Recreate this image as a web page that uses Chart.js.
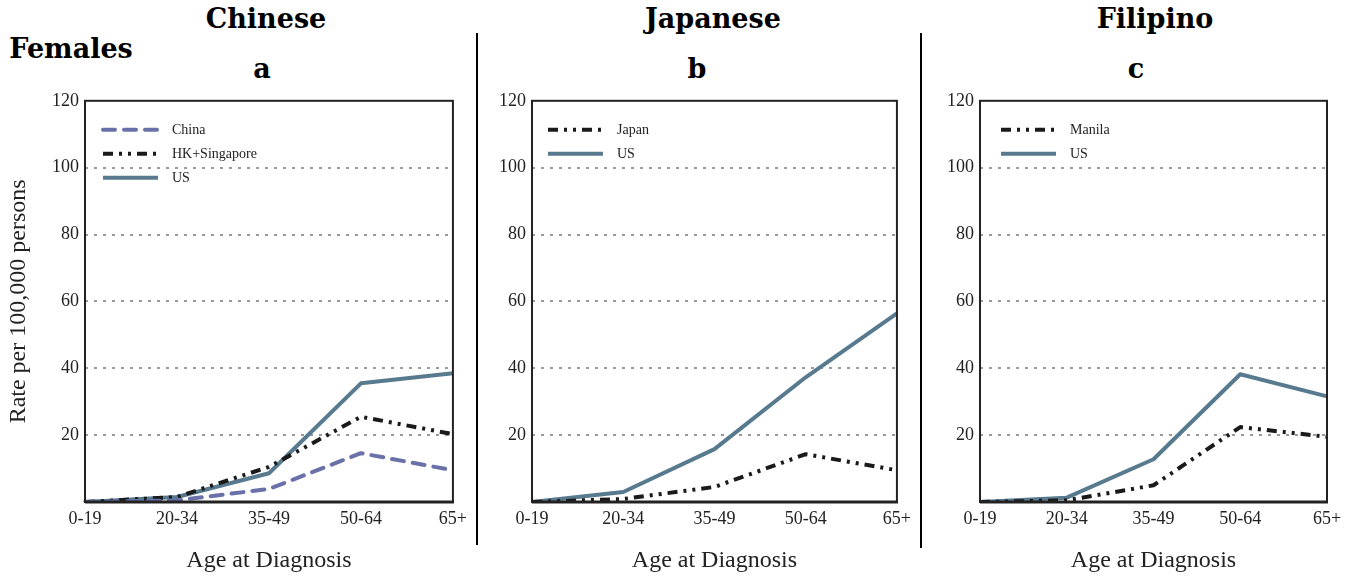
<!DOCTYPE html>
<html>
<head>
<meta charset="utf-8">
<script src="https://cdn.jsdelivr.net/npm/chart.js@4.4.1/dist/chart.umd.min.js"></script>
<style>
    body { margin: 0; background: #fff; width: 1354px; height: 579px; position: relative; overflow: hidden; font-family: "Liberation Serif", serif; }
    .txt { position: absolute; font-family: "DejaVu Serif", serif; font-weight: bold; font-size: 27px; color: #000; white-space: nowrap; transform: translateX(-50%); }
    .sep { position: absolute; width: 2px; background: #000; }
    .panel { position: absolute; top: 84px; height: 495px; }
</style>
</head>
<body>
<div class="txt" style="left:266px; top:3px;">Chinese</div>
<div class="txt" style="left:262px; top:53px;">a</div>
<div class="txt" style="left:71px; top:33px;">Females</div>
<div class="txt" style="left:713px; top:3px;">Japanese</div>
<div class="txt" style="left:697px; top:53px;">b</div>
<div class="txt" style="left:1155px; top:3px;">Filipino</div>
<div class="txt" style="left:1136px; top:53px;">c</div>
<div class="sep" style="left:476px; top:33px; height:512px;"></div>
<div class="sep" style="left:920px; top:33px; height:515px;"></div>

<div class="panel" style="left:0px; width:473px;"><canvas id="chartA"></canvas></div>
<div class="panel" style="left:480px; width:437px;"><canvas id="chartB"></canvas></div>
<div class="panel" style="left:925px; width:429px;"><canvas id="chartC"></canvas></div>

<script>
// age groups and tick values
const ageGroups = ['0-19', '20-34', '35-49', '50-64', '65+'];
const yTicks = [20, 40, 60, 80, 100, 120];

// Chinese panel (a)
const chinaRate = [0, 0.5, 3.9, 14.6, 9.5];
const hkSingaporeRate = [0, 1.5, 10.5, 25.5, 20.3];
const usChineseRate = [0, 1.5, 8.6, 35.5, 38.5];

// Japanese panel (b)
const japanRate = [0, 0.9, 4.5, 14.3, 9.5];
const usJapaneseRate = [0, 3, 15.8, 37.3, 56.4];

// Filipino panel (c)
const manilaRate = [0, 0.5, 5, 22.4, 19.5];
const usFilipinoRate = [0, 1.3, 12.8, 38.2, 31.6];

const US_COLOR = '#587a8e';
const CHINA_COLOR = '#6a70a8';
const DARK = '#1a1a1a';
const DASH_DOT = [10, 6, 3, 6, 3, 6];

function usSet(data) {
    return { label: 'US', data: data, borderColor: US_COLOR, borderWidth: 4, borderDash: [] };
}

// frame around the plot + legend inside top-left corner
const framePlugin = {
    id: 'frame',
    afterDraw(chart) {
        const a = chart.chartArea;
        const ctx = chart.ctx;
        ctx.save();
        ctx.strokeStyle = '#222';
        ctx.lineWidth = 2;
        ctx.strokeRect(a.left, a.top, a.right - a.left, a.bottom - a.top);
        ctx.lineWidth = 3;
        ctx.beginPath();
        ctx.moveTo(a.left, a.bottom);
        ctx.lineTo(a.right + 1, a.bottom);
        ctx.stroke();

        // legend
        const lg = chart.options.plugins.frame;
        chart.data.datasets.forEach(function (ds, i) {
            const y = a.top + lg.top + i * 24;
            const x0 = a.left + lg.left;
            ctx.strokeStyle = ds.borderColor;
            ctx.lineWidth = 4;
            ctx.lineCap = ds.borderCapStyle || 'butt';
            ctx.setLineDash(ds.borderDash);
            ctx.beginPath();
            ctx.moveTo(x0, y);
            ctx.lineTo(x0 + 55, y);
            ctx.stroke();
            ctx.setLineDash([]);
            ctx.fillStyle = '#222';
            ctx.font = '14px "Liberation Serif"';
            ctx.textBaseline = 'middle';
            ctx.fillText(ds.label, x0 + 69, y + 1);
        });
        ctx.restore();
    }
};

function makeChart(id, datasets, opts) {
    return new Chart(document.getElementById(id), {
        type: 'line',
        data: { labels: ageGroups, datasets: datasets },
        plugins: [framePlugin],
        options: {
            responsive: true,
            maintainAspectRatio: false,
            animation: false,
            layout: { padding: { top: 4, right: opts.right, left: 0, bottom: 0 } },
            elements: {
                point: { radius: 0 },
                line: { tension: 0, borderJoinStyle: 'round' }
            },
            plugins: {
                legend: { display: false },
                tooltip: { enabled: false },
                frame: { left: opts.legendLeft, top: 29 }
            },
            scales: {
                x: {
                    offset: false,
                    grid: { display: false, drawTicks: false },
                    border: { display: false },
                    ticks: { color: '#222', font: { family: 'Liberation Serif', size: 18 }, padding: 6, maxRotation: 0 },
                    title: { display: true, text: 'Age at Diagnosis', color: '#222', font: { family: 'Liberation Serif', size: 24 }, padding: { top: 20 } },
                    afterFit(scale) { scale.height = 77; }
                },
                y: {
                    min: 0,
                    max: 120,
                    afterBuildTicks(scale) { scale.ticks = [0].concat(yTicks).map(v => ({ value: v })); },
                    grid: {
                        drawTicks: false,
                        color: ctx => (ctx.tick.value === 0 || ctx.tick.value === 120) ? 'rgba(0,0,0,0)' : '#9a9a9a',
                        lineWidth: 2
                    },
                    border: { display: false, dash: [3, 6] },
                    ticks: {
                        color: '#222',
                        font: { family: 'Liberation Serif', size: 18 },
                        padding: 6,
                        callback: v => v === 0 ? '' : v
                    },
                    title: {
                        display: opts.yTitle,
                        text: 'Rate per 100,000 persons',
                        color: '#222',
                        font: { family: 'Liberation Serif', size: 24 },
                        padding: { bottom: 10 }
                    },
                    afterFit(scale) { scale.width = opts.yWidth; }
                }
            }
        }
    });
}

makeChart('chartA', [
    { label: 'China', data: chinaRate, borderColor: CHINA_COLOR, borderWidth: 4, borderDash: [12, 9], borderCapStyle: 'round' },
    { label: 'HK+Singapore', data: hkSingaporeRate, borderColor: DARK, borderWidth: 4, borderDash: DASH_DOT },
    usSet(usChineseRate)
], { right: 14, yWidth: 85, yTitle: true, legendLeft: 18 });

makeChart('chartB', [
    { label: 'Japan', data: japanRate, borderColor: DARK, borderWidth: 4, borderDash: DASH_DOT },
    usSet(usJapaneseRate)
], { right: 16, yWidth: 52, yTitle: false, legendLeft: 16 });

makeChart('chartC', [
    { label: 'Manila', data: manilaRate, borderColor: DARK, borderWidth: 4, borderDash: DASH_DOT },
    usSet(usFilipinoRate)
], { right: 27, yWidth: 55, yTitle: false, legendLeft: 21 });
</script>
</body>
</html>
